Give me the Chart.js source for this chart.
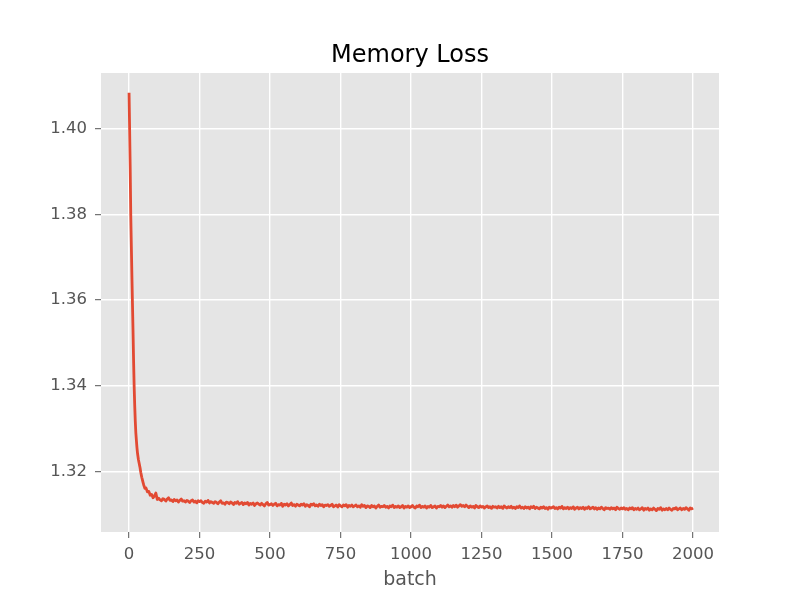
<!DOCTYPE html>
<html>
<head>
<meta charset="utf-8">
<script src="https://cdn.jsdelivr.net/npm/chart.js@4"></script>
<style>
  html, body { margin: 0; padding: 0; background: #fff; }
  #wrap { width: 800px; height: 600px; }
</style>
</head>
<body>
<div id="wrap"><canvas id="c" width="800" height="600"></canvas></div>
<script>
// batch index of each sampled point
const batches = [
  0, 2, 4, 6, 8, 10, 12, 14, 16, 18, 20, 22, 24, 26, 28, 30, 33, 36, 39, 42, 45, 48, 52, 56, 60,
  65, 70, 75, 80, 85, 90, 95, 100,
  105, 110, 115, 120, 125, 130, 135, 140, 145, 150, 155, 160, 165, 170, 175, 180, 185, 190, 195, 200,
  205, 210, 215, 220, 225, 230, 235, 240, 245, 250, 255, 260, 265, 270, 275, 280, 285, 290, 295, 300,
  305, 310, 315, 320, 325, 330, 335, 340, 345, 350, 355, 360, 365, 370, 375, 380, 385, 390, 395, 400,
  405, 410, 415, 420, 425, 430, 435, 440, 445, 450, 455, 460, 465, 470, 475, 480, 485, 490, 495, 500,
  505, 510, 515, 520, 525, 530, 535, 540, 545, 550, 555, 560, 565, 570, 575, 580, 585, 590, 595, 600,
  605, 610, 615, 620, 625, 630, 635, 640, 645, 650, 655, 660, 665, 670, 675, 680, 685, 690, 695, 700,
  705, 710, 715, 720, 725, 730, 735, 740, 745, 750, 755, 760, 765, 770, 775, 780, 785, 790, 795, 800,
  805, 810, 815, 820, 825, 830, 835, 840, 845, 850, 855, 860, 865, 870, 875, 880, 885, 890, 895, 900,
  905, 910, 915, 920, 925, 930, 935, 940, 945, 950, 955, 960, 965, 970, 975, 980, 985, 990, 995, 1000,
  1005, 1010, 1015, 1020, 1025, 1030, 1035, 1040, 1045, 1050, 1055, 1060, 1065, 1070, 1075, 1080, 1085, 1090, 1095, 1100,
  1105, 1110, 1115, 1120, 1125, 1130, 1135, 1140, 1145, 1150, 1155, 1160, 1165, 1170, 1175, 1180, 1185, 1190, 1195, 1200,
  1205, 1210, 1215, 1220, 1225, 1230, 1235, 1240, 1245, 1250, 1255, 1260, 1265, 1270, 1275, 1280, 1285, 1290, 1295, 1300,
  1305, 1310, 1315, 1320, 1325, 1330, 1335, 1340, 1345, 1350, 1355, 1360, 1365, 1370, 1375, 1380, 1385, 1390, 1395, 1400,
  1405, 1410, 1415, 1420, 1425, 1430, 1435, 1440, 1445, 1450, 1455, 1460, 1465, 1470, 1475, 1480, 1485, 1490, 1495, 1500,
  1505, 1510, 1515, 1520, 1525, 1530, 1535, 1540, 1545, 1550, 1555, 1560, 1565, 1570, 1575, 1580, 1585, 1590, 1595, 1600,
  1605, 1610, 1615, 1620, 1625, 1630, 1635, 1640, 1645, 1650, 1655, 1660, 1665, 1670, 1675, 1680, 1685, 1690, 1695, 1700,
  1705, 1710, 1715, 1720, 1725, 1730, 1735, 1740, 1745, 1750, 1755, 1760, 1765, 1770, 1775, 1780, 1785, 1790, 1795, 1800,
  1805, 1810, 1815, 1820, 1825, 1830, 1835, 1840, 1845, 1850, 1855, 1860, 1865, 1870, 1875, 1880, 1885, 1890, 1895, 1900,
  1905, 1910, 1915, 1920, 1925, 1930, 1935, 1940, 1945, 1950, 1955, 1960, 1965, 1970, 1975, 1980, 1985, 1990, 1995, 2000
];

// memory loss
const memoryLoss = [
  1.4085, 1.4000, 1.3910, 1.3800, 1.3730, 1.3660, 1.3594, 1.3530, 1.3460, 1.3400, 1.3355, 1.3318,
  1.3290, 1.3272, 1.3255, 1.3242, 1.3228, 1.3218, 1.3208, 1.3196, 1.3186, 1.3178, 1.3168, 1.3160,
  1.3161, 1.3152, 1.3153, 1.3144, 1.3146, 1.3138, 1.3142, 1.3149, 1.3134,
  1.3137, 1.3133, 1.3131, 1.3136, 1.3134, 1.3130, 1.3135, 1.3138, 1.3132, 1.3133,
  1.3129, 1.3134, 1.3131, 1.3133, 1.3128, 1.3132, 1.3135, 1.3130, 1.3131, 1.3128,
  1.3132, 1.3130, 1.3127, 1.3131, 1.3133, 1.3128, 1.3130, 1.3126, 1.3131, 1.3129,
  1.3131, 1.3127, 1.3125, 1.3130, 1.3128, 1.3132, 1.3126, 1.3129, 1.3127, 1.3125,
  1.3129, 1.3127, 1.3124, 1.3128, 1.3131, 1.3125, 1.3126, 1.3123, 1.3128, 1.3127,
  1.3124, 1.3128, 1.3126, 1.3122, 1.3127, 1.3125, 1.3129, 1.3123, 1.3125, 1.3127,
  1.3122, 1.3126, 1.3124, 1.3127, 1.3121, 1.3125, 1.3123, 1.3126, 1.3120, 1.3124,
  1.3126, 1.3123, 1.3121, 1.3125, 1.3122, 1.3119, 1.3124, 1.3127, 1.3121, 1.3122,
  1.3124, 1.3120, 1.3123, 1.3125, 1.3119, 1.3122, 1.3121, 1.3125, 1.3118, 1.3123,
  1.3121, 1.3124, 1.3119, 1.3122, 1.3126, 1.3120, 1.3122, 1.3118, 1.3123, 1.3121,
  1.3119, 1.3123, 1.3121, 1.3124, 1.3118, 1.3122, 1.3120, 1.3117, 1.3123, 1.3121,
  1.3124, 1.3119, 1.3121, 1.3118, 1.3123, 1.3120, 1.3122, 1.3117, 1.3121, 1.3120,
  1.3122, 1.3118, 1.3120, 1.3123, 1.3117, 1.3119, 1.3121, 1.3116, 1.3122, 1.3119,
  1.3117, 1.3121, 1.3119, 1.3122, 1.3116, 1.3120, 1.3118, 1.3121, 1.3117, 1.3119,
  1.3121, 1.3117, 1.3119, 1.3116, 1.3122, 1.3118, 1.3120, 1.3115, 1.3119, 1.3118,
  1.3115, 1.3120, 1.3117, 1.3119, 1.3114, 1.3118, 1.3121, 1.3116, 1.3118, 1.3117,
  1.3120, 1.3116, 1.3118, 1.3114, 1.3119, 1.3117, 1.3121, 1.3115, 1.3118, 1.3116,
  1.3119, 1.3115, 1.3117, 1.3120, 1.3114, 1.3118, 1.3116, 1.3119, 1.3115, 1.3117,
  1.3120, 1.3116, 1.3114, 1.3119, 1.3117, 1.3121, 1.3115, 1.3118, 1.3116, 1.3119,
  1.3114, 1.3118, 1.3116, 1.3120, 1.3115, 1.3117, 1.3119, 1.3114, 1.3118, 1.3117,
  1.3120, 1.3116, 1.3119, 1.3115, 1.3118, 1.3121, 1.3117, 1.3119, 1.3116, 1.3120,
  1.3117, 1.3121, 1.3116, 1.3119, 1.3122, 1.3118, 1.3120, 1.3117, 1.3121, 1.3118,
  1.3115, 1.3119, 1.3116, 1.3118, 1.3114, 1.3120, 1.3117, 1.3115, 1.3119, 1.3116,
  1.3118, 1.3114, 1.3117, 1.3119, 1.3115, 1.3117, 1.3113, 1.3118, 1.3116, 1.3117,
  1.3114, 1.3118, 1.3115, 1.3117, 1.3113, 1.3119, 1.3116, 1.3114, 1.3117, 1.3115,
  1.3118, 1.3114, 1.3116, 1.3113, 1.3117, 1.3115, 1.3119, 1.3114, 1.3116, 1.3113,
  1.3117, 1.3114, 1.3116, 1.3112, 1.3117, 1.3115, 1.3118, 1.3113, 1.3116, 1.3114,
  1.3112, 1.3116, 1.3114, 1.3117, 1.3113, 1.3115, 1.3111, 1.3116, 1.3114, 1.3115,
  1.3117, 1.3113, 1.3115, 1.3112, 1.3116, 1.3114, 1.3118, 1.3112, 1.3115, 1.3113,
  1.3116, 1.3112, 1.3115, 1.3113, 1.3117, 1.3111, 1.3114, 1.3116, 1.3112, 1.3115,
  1.3113, 1.3116, 1.3111, 1.3115, 1.3113, 1.3117, 1.3112, 1.3114, 1.3116, 1.3112,
  1.3115, 1.3111, 1.3114, 1.3112, 1.3116, 1.3113, 1.3110, 1.3115, 1.3113, 1.3114,
  1.3111, 1.3115, 1.3112, 1.3114, 1.3110, 1.3116, 1.3113, 1.3111, 1.3114, 1.3112,
  1.3115, 1.3111, 1.3113, 1.3110, 1.3114, 1.3112, 1.3115, 1.3110, 1.3113, 1.3111,
  1.3114, 1.3110, 1.3112, 1.3115, 1.3109, 1.3113, 1.3111, 1.3114, 1.3109, 1.3112,
  1.3110, 1.3114, 1.3111, 1.3108, 1.3113, 1.3111, 1.3115, 1.3109, 1.3112, 1.3110,
  1.3113, 1.3110, 1.3114, 1.3111, 1.3109, 1.3113, 1.3112, 1.3115, 1.3110, 1.3112,
  1.3114, 1.3110, 1.3113, 1.3111, 1.3115, 1.3112, 1.3109, 1.3114, 1.3112, 1.3114
];

const xTicks = [0, 250, 500, 750, 1000, 1250, 1500, 1750, 2000];
const yTicks = [1.32, 1.34, 1.36, 1.38, 1.40];
const chartTitle = 'Memory Loss';

const TICK_GREY = '#555555';
const FONT = "'DejaVu Sans', sans-serif";

// grey panel behind the plot like the ggplot style
const panelBg = {
  id: 'panelBg',
  beforeDraw(chart) {
    const a = chart.chartArea, ctx = chart.ctx;
    ctx.save();
    ctx.fillStyle = '#E5E5E5';
    ctx.fillRect(a.left, a.top, a.right - a.left, a.bottom - a.top);
    ctx.restore();
  }
};

// title centred over the plot area (matplotlib style), not over the whole canvas
const panelTitle = {
  id: 'panelTitle',
  afterDraw(chart) {
    const a = chart.chartArea, ctx = chart.ctx;
    ctx.save();
    ctx.font = '24px ' + FONT;
    ctx.fillStyle = '#000';
    ctx.textAlign = 'center';
    ctx.textBaseline = 'alphabetic';
    ctx.fillText(chartTitle, (a.left + a.right) / 2, 62);
    ctx.restore();
  }
};

new Chart(document.getElementById('c'), {
  type: 'line',
  data: {
    datasets: [{
      data: batches.map((b, i) => ({ x: b, y: memoryLoss[i] })),
      borderColor: '#E24A33',
      borderWidth: 2.8,
      borderJoinStyle: 'round',
      pointRadius: 0,
      tension: 0.001, // tiny tension avoids Chart.js' per-pixel fast path stubs
      fill: false
    }]
  },
  options: {
    responsive: false,
    animation: false,
    layout: { padding: { left: 0, right: 81, top: 73, bottom: 9 } },
    plugins: {
      legend: { display: false },
      tooltip: { enabled: false },
      title: { display: false }
    },
    scales: {
      x: {
        type: 'linear',
        min: -99.5,
        max: 2092,
        afterBuildTicks: s => { s.ticks = xTicks.map(v => ({ value: v })); },
        afterFit: s => { s.height = 59; },
        grid: { color: '#FFFFFF', lineWidth: 1.4, tickColor: TICK_GREY, tickLength: 6, tickWidth: 1 },
        border: { display: false },
        ticks: { color: TICK_GREY, font: { family: FONT, size: 16.5 }, padding: 7, maxRotation: 0, autoSkip: false,
                 callback: v => String(v) },
        title: { display: true, text: 'batch', color: TICK_GREY, font: { family: FONT, size: 19 }, padding: 0 }
      },
      y: {
        type: 'linear',
        min: 1.3058,
        max: 1.4131,
        afterBuildTicks: s => { s.ticks = yTicks.map(v => ({ value: v })); },
        afterFit: s => { s.width = 101; },
        grid: { color: '#FFFFFF', lineWidth: 1.4, tickColor: TICK_GREY, tickLength: 6, tickWidth: 1 },
        border: { display: false },
        ticks: { color: TICK_GREY, font: { family: FONT, size: 16.5 }, padding: 8, autoSkip: false,
                 callback: v => v.toFixed(2) }
      }
    }
  },
  plugins: [panelBg, panelTitle]
});
</script>
</body>
</html>
